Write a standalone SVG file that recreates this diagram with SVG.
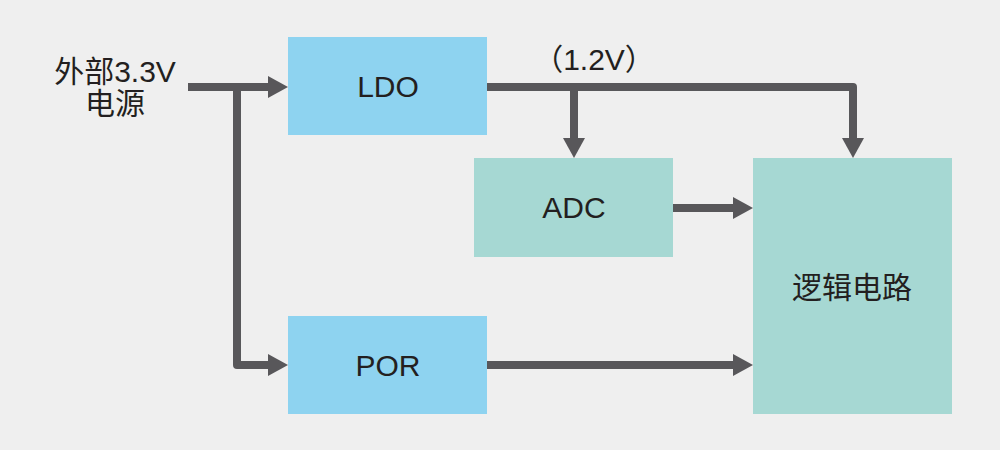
<svg xmlns="http://www.w3.org/2000/svg" width="1000" height="450" viewBox="0 0 1000 450">
<style>
.t{font-family:"Liberation Sans","Noto Sans CJK SC",sans-serif;font-size:30px;fill:#231f20;text-anchor:middle}
.blue{fill:#8ed3f0}
.teal{fill:#a6d8d3}
.ln{stroke:#58575a;stroke-width:8;fill:none;stroke-linejoin:round}
.ah{fill:#58575a}
</style>
<rect width="1000" height="450" fill="#efefef"/>
<g id="connectors">
<path class="ln" d="M188 87H270"/>
<polygon class="ah" points="268,76 288,87 268,98"/>
<path class="ln" d="M237 87V365H270"/>
<polygon class="ah" points="268,354 288,365 268,376"/>
<path class="ln" d="M487 87H853V140"/>
<polygon class="ah" points="842,138 853,158 864,138"/>
<path class="ln" d="M574 87V140"/>
<polygon class="ah" points="563,138 574,158 585,138"/>
<path class="ln" d="M673 208H735"/>
<polygon class="ah" points="733,197 753,208 733,219"/>
<path class="ln" d="M487 365H735"/>
<polygon class="ah" points="733,354 753,365 733,376"/>
</g>
<g id="input">
<text class="t" x="115" y="82">外部3.3V</text>
<text class="t" x="115" y="114">电源</text>
</g>
<g id="v12"><text class="t" x="594" y="70">（1.2V）</text></g>
<g id="ldo"><rect class="blue" x="288" y="37" width="199" height="98"/><text class="t" x="388" y="97">LDO</text></g>
<g id="adc"><rect class="teal" x="474" y="158" width="199" height="99"/><text class="t" x="574" y="218">ADC</text></g>
<g id="por"><rect class="blue" x="288" y="316" width="199" height="98"/><text class="t" x="388" y="376">POR</text></g>
<g id="logic"><rect class="teal" x="753" y="158" width="199" height="256"/><text class="t" x="852" y="298">逻辑电路</text></g>
</svg>
